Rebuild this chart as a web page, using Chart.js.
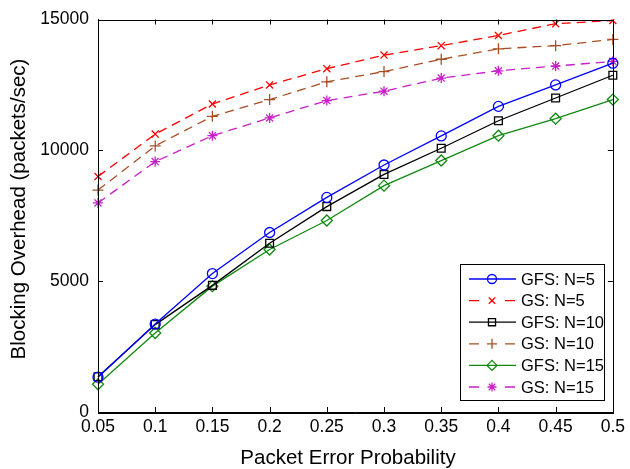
<!DOCTYPE html>
<html>
<head>
<meta charset="utf-8">
<script src="https://cdn.jsdelivr.net/npm/chart.js@4/dist/chart.umd.min.js"></script>
<style>
html,body{margin:0;padding:0;background:#fff;}
#wrap{width:630px;height:469px;}
</style>
</head>
<body>
<div id="wrap"><canvas id="c" width="630" height="469"></canvas></div>
<script>
const categories = ['0.05','0.1','0.15','0.2','0.25','0.3','0.35','0.4','0.45','0.5'];
const gfsN5  = [1330, 3360, 5290, 6860, 8200, 9440, 10550, 11680, 12500, 13330];
const gsN5   = [9000, 10620, 11770, 12500, 13120, 13640, 14000, 14390, 14840, 14960];
const gfsN10 = [1350, 3340, 4840, 6450, 7850, 9080, 10080, 11130, 12000, 12870];
const gsN10  = [8480, 10170, 11300, 11940, 12620, 13010, 13480, 13880, 14000, 14240];
const gfsN15 = [1060, 3020, 4810, 6210, 7320, 8650, 9610, 10560, 11210, 11940];
const gsN15  = [7990, 9570, 10560, 11240, 11900, 12260, 12760, 13040, 13220, 13400];
const yTicks = [0, 5000, 10000, 15000];
const seriesNames = ['GFS: N=5','GS: N=5','GFS: N=10','GS: N=10','GFS: N=15','GS: N=15'];
const xTitle = 'Packet Error Probability';
const yTitle = 'Blocking Overhead (packets/sec)';

const FONT = '"Liberation Sans", Arial, Helvetica, sans-serif';
const styles = [
  {color:'#0000ff', dash:[], point:'circle', r:5},
  {color:'#ff0000', dash:[9,6], point:'crossRot', r:5},
  {color:'#000000', dash:[], point:'rect', r:5.5},
  {color:'#a84e22', dash:[9,6], point:'cross', r:5.5},
  {color:'#108a10', dash:[], point:'rectRot', r:5.5},
  {color:'#c81ec8', dash:[9,6], point:'star', r:5}
];
const seriesData = [gfsN5, gsN5, gfsN10, gsN10, gfsN15, gsN15];

const datasets = seriesData.map((d,i)=>({
  label: seriesNames[i],
  data: d,
  borderColor: styles[i].color,
  backgroundColor: 'rgba(0,0,0,0)',
  borderWidth: 1.3,
  borderDash: styles[i].dash,
  pointStyle: styles[i].point,
  pointRadius: styles[i].r,
  pointBorderColor: styles[i].color,
  pointBackgroundColor: 'rgba(0,0,0,0)',
  pointBorderWidth: 1.3,
  tension: 0,
  fill: false
}));

function drawMarker(ctx, style, r, x, y){
  ctx.beginPath();
  const s = Math.SQRT1_2 * r;
  switch(style){
    case 'circle': ctx.arc(x,y,r,0,Math.PI*2); break;
    case 'rect': ctx.rect(x-s,y-s,2*s,2*s); break;
    case 'rectRot': ctx.moveTo(x,y-r); ctx.lineTo(x+r,y); ctx.lineTo(x,y+r); ctx.lineTo(x-r,y); ctx.closePath(); break;
    case 'cross': ctx.moveTo(x,y-r); ctx.lineTo(x,y+r); ctx.moveTo(x-r,y); ctx.lineTo(x+r,y); break;
    case 'crossRot': ctx.moveTo(x-s,y-s); ctx.lineTo(x+s,y+s); ctx.moveTo(x+s,y-s); ctx.lineTo(x-s,y+s); break;
    case 'star':
      ctx.moveTo(x,y-r); ctx.lineTo(x,y+r); ctx.moveTo(x-r,y); ctx.lineTo(x+r,y);
      ctx.moveTo(x-s,y-s); ctx.lineTo(x+s,y+s); ctx.moveTo(x+s,y-s); ctx.lineTo(x-s,y+s); break;
  }
  ctx.stroke();
}

const framePlugin = {
  id:'frame',
  afterDraw(chart){
    const ctx = chart.ctx, a = chart.chartArea;
    const xs = chart.scales.x, ys = chart.scales.y;
    ctx.save();
    ctx.strokeStyle = '#000'; ctx.lineWidth = 1; ctx.setLineDash([]);
    ctx.strokeRect(Math.round(a.left)+0.5, Math.round(a.top)+0.5, Math.round(a.right-a.left), Math.round(a.bottom-a.top));
    const tl = 5;
    ctx.beginPath();
    for(let i=0;i<categories.length;i++){
      const px = Math.round(xs.getPixelForTick(i))+0.5;
      ctx.moveTo(px,a.bottom); ctx.lineTo(px,a.bottom-tl);
      ctx.moveTo(px,a.top); ctx.lineTo(px,a.top+tl);
    }
    yTicks.forEach(v=>{
      const py = Math.round(ys.getPixelForValue(v))+0.5;
      ctx.moveTo(a.left,py); ctx.lineTo(a.left+tl,py);
      ctx.moveTo(a.right,py); ctx.lineTo(a.right-tl,py);
    });
    ctx.stroke();

    // axis titles
    ctx.fillStyle = '#000';
    ctx.font = '20.5px ' + FONT;
    ctx.textAlign = 'center'; ctx.textBaseline = 'middle';
    ctx.fillText(xTitle, 348, 458);
    ctx.save();
    ctx.translate(19, 209);
    ctx.rotate(-Math.PI/2);
    ctx.fillText(yTitle, 0, 0);
    ctx.restore();

    // legend
    const bx = 460.5, by = 264.5, bw = 144, bh = 136;
    ctx.fillStyle = '#fff';
    ctx.fillRect(bx,by,bw,bh);
    ctx.strokeStyle = '#000'; ctx.lineWidth = 1;
    ctx.strokeRect(bx,by,bw,bh);
    ctx.font = '16.5px ' + FONT;
    ctx.textBaseline = 'middle'; ctx.textAlign = 'left';
    for(let i=0;i<6;i++){
      const yy = 279 + i*21.6;
      const st = styles[i];
      ctx.strokeStyle = st.color; ctx.lineWidth = 1.3;
      ctx.beginPath();
      if(st.dash.length){
        ctx.moveTo(469,yy); ctx.lineTo(479,yy);
        ctx.moveTo(505,yy); ctx.lineTo(515,yy);
      } else {
        ctx.moveTo(469,yy); ctx.lineTo(516,yy);
      }
      ctx.stroke();
      drawMarker(ctx, st.point, st.r-0.5, 492, yy);
      ctx.fillStyle = '#000';
      ctx.fillText(seriesNames[i], 521, yy+1);
    }
    ctx.restore();
  }
};

new Chart(document.getElementById('c'), {
  type:'line',
  data:{labels:categories, datasets},
  options:{
    responsive:false,
    animation:false,
    devicePixelRatio:1,
    layout:{padding:{left:0,right:15,top:19,bottom:0}},
    plugins:{legend:{display:false}, tooltip:{enabled:false}},
    scales:{
      x:{
        type:'category',
        offset:false,
        grid:{display:false, drawTicks:false},
        border:{display:true,color:'#000',width:1},
        ticks:{color:'#000', font:{family:FONT,size:17.5}, padding:5, maxRotation:0, autoSkip:false},
        title:{display:false},
        afterFit(s){ s.height = 57; }
      },
      y:{
        min:0,max:15000,
        grid:{display:false, drawTicks:false},
        border:{display:true,color:'#000',width:1},
        ticks:{color:'#000', font:{family:FONT,size:17.5}, padding:9,
          callback:(v)=> yTicks.includes(v) ? String(v) : null, stepSize:5000},
        afterBuildTicks(s){ s.ticks = yTicks.map(v=>({value:v})); },
        title:{display:false},
        afterFit(s){ s.width = 98; }
      }
    }
  },
  plugins:[framePlugin]
});
</script>
</body>
</html>
